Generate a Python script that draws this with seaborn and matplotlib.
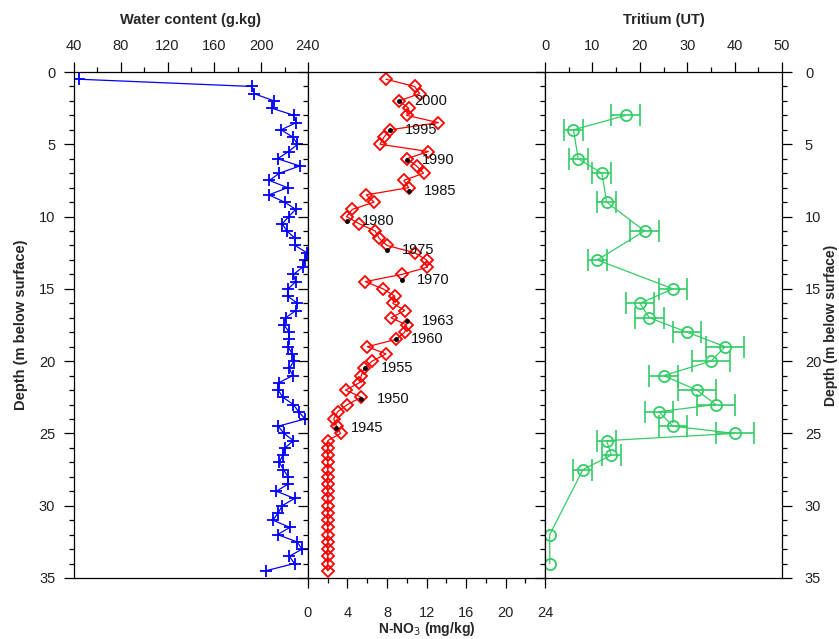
#depth profiles: water content, nitrate (with dated layers) and tritium
import numpy as np
import pandas as pd
import matplotlib
matplotlib.use('Agg')
import matplotlib.pyplot as plt
from matplotlib.ticker import MultipleLocator
import seaborn as sns

sns.set_theme(style='ticks')
plt.rcParams['font.family'] = ['Liberation Sans', 'DejaVu Sans']

#sampling depths (m), every half metre
depth = [0.5, 1.0, 1.5, 2.0, 2.5, 3.0, 3.5, 4.0, 4.5, 5.0, 5.5, 6.0, 6.5, 7.0, 7.5, 8.0, 8.5, 9.0, 9.5, 10.0,
 10.5, 11.0, 11.5, 12.0, 12.5, 13.0, 13.5, 14.0, 14.5, 15.0, 15.5, 16.0, 16.5, 17.0, 17.5, 18.0, 18.5, 19.0, 19.5, 20.0,
 20.5, 21.0, 21.5, 22.0, 22.5, 23.0, 23.5, 24.0, 24.5, 25.0, 25.5, 26.0, 26.5, 27.0, 27.5, 28.0, 28.5, 29.0, 29.5, 30.0,
 30.5, 31.0, 31.5, 32.0, 32.5, 33.0, 33.5, 34.0, 34.5]

water = [44.5, 192, 194, 211, 209, 228, 230, 217, 227, 231, 223.5, 214, 233, 215.5, 207, 222.5, 206.5, 220, 229.5, 223.5,
 218, 222, 229, 229, 239, 237.5, 235.5, 227.5, 229.5, 223, 222.5, 231, 229.5, 221, 219.5, 224, 224, 223, 226.5, 228,
 224, 227, 215, 214.5, 218.5, 227.5, 232, 237.5, 214.5, 219.5, 227.5, 220.5, 218.5, 215.5, 219, 223, 223, 213, 228.5, 218,
 214.5, 210, 224.5, 214, 230.5, 235, 224, 228.5, 204]

nitrate = [7.9, 10.8, 11.3, 9.2, 10.2, 10.0, 13.2, 8.3, 7.7, 7.3, 12.2, 10.0, 11.0, 11.7, 9.7, 10.2, 5.9, 6.7, 4.5, 3.9,
 5.2, 6.8, 7.2, 8.0, 10.8, 12.0, 12.1, 9.5, 5.8, 7.6, 8.8, 8.6, 9.8, 8.4, 10.0, 9.8, 8.9, 6.0, 7.9, 6.5,
 5.7, 5.4, 5.2, 3.8, 5.4, 4.0, 3.0, 2.6, 2.9, 3.3, 2.0, 2.0, 2.0, 2.0, 2.0, 2.0, 2.0, 2.0, 2.0, 2.0,
 2.0, 2.0, 2.0, 2.0, 2.0, 2.0, 2.0, 2.0, 2.0]

#dated layers on the nitrate profile
years = ['2000', '1995', '1990', '1985', '1980', '1975', '1970', '1963', '1960', '1955', '1950', '1945']
year_depth = [2.0, 4.0, 6.1, 8.2, 10.3, 12.3, 14.4, 17.2, 18.5, 20.5, 22.6, 24.6]
year_no3 = [9.2, 8.3, 10.0, 10.2, 3.9, 8.0, 9.5, 10.0, 8.9, 5.8, 5.4, 2.8]

#tritium
tri_depth = [3, 4, 6, 7, 9, 11, 13, 15, 16, 17, 18, 19, 20, 21, 22, 23, 23.5, 24.5, 25, 25.5, 26.5, 27.5, 32, 34]
tritium = [17, 6, 7, 12, 13, 21, 11, 27, 20, 22, 30, 38, 35, 25, 32, 36, 24, 27, 40, 13, 14, 8, 1, 1]
tri_err = [3, 2, 2, 2, 2, 3, 2, 3, 3, 3, 3, 4, 4, 3, 4, 4, 3, 3, 4, 2, 2, 2, 0, 0]

df_w = pd.DataFrame({'depth': depth, 'water': water, 'no3': nitrate})
df_t = pd.DataFrame({'depth': tri_depth, 'tritium': tritium, 'err': tri_err})

green = '#33cc66'
fig = plt.figure(figsize=(8.39, 6.39), dpi=100)
ax1 = fig.add_axes([0.0882, 0.0955, 0.2789, 0.7918])
ax2 = fig.add_axes([0.3671, 0.0955, 0.2825, 0.7918])
ax3 = fig.add_axes([0.6496, 0.0955, 0.2825, 0.7918])

sns.lineplot(data=df_w, x='water', y='depth', orient='y', estimator=None, sort=False, ax=ax1,
 color='#0000ff', lw=0.9, marker='+', markersize=9, markeredgewidth=1.3, markeredgecolor='#0000ff')
sns.lineplot(data=df_w, x='no3', y='depth', orient='y', estimator=None, sort=False, ax=ax2,
 color='#ff0000', lw=0.9, marker='D', markersize=6, markerfacecolor='none', markeredgecolor='#ff0000', markeredgewidth=1.3)
ax2.plot(year_no3, year_depth, ls='none', marker='o', ms=2.5, color='black', zorder=5)
for yr, d, v in zip(years, year_depth, year_no3):
	ax2.annotate(yr, (v, d), xytext=(11, 0), textcoords='offset points', va='center', ha='left', fontsize=10.5, color='#111111')

err_ok = df_t[df_t.err > 0]
ax3.errorbar(err_ok.tritium, err_ok.depth, xerr=err_ok.err, fmt='none', ecolor=green, elinewidth=1.2, capsize=8, capthick=1.2)
sns.lineplot(data=df_t, x='tritium', y='depth', orient='y', estimator=None, sort=False, ax=ax3,
 color=green, lw=0.9, marker='o', markersize=8, markerfacecolor='none', markeredgecolor=green, markeredgewidth=1.3)

for ax in (ax1, ax2, ax3):
	ax.set_ylim(35, 0)
	ax.yaxis.set_major_locator(MultipleLocator(5))
	ax.yaxis.set_minor_locator(MultipleLocator(1))
	for s in ax.spines.values():
		s.set_visible(True)
		s.set_linewidth(0.9)
		s.set_color('black')
	ax.tick_params(which='major', length=7.5, width=0.9, color='black', labelsize=10.5, labelcolor='#222222')
	ax.tick_params(which='minor', length=3.8, width=0.9, color='black')
	ax.set_xlabel('')
	ax.set_ylabel('')
	ax.set_facecolor('white')

#water content
ax1.set_xlim(40, 240)
ax1.xaxis.set_major_locator(MultipleLocator(40))
ax1.xaxis.set_minor_locator(MultipleLocator(20))
ax1.xaxis.tick_top()
ax1.tick_params(axis='x', which='both', top=True, bottom=False, labeltop=True, labelbottom=False, pad=6)
ax1.tick_params(axis='y', which='both', left=True, right=False, labelleft=True, pad=6)
ax1.xaxis.set_label_position('top')
ax1.set_xlabel('Water content (g.kg)', fontweight='bold', fontsize=10.5, labelpad=11)
ax1.set_ylabel('Depth (m below surface)', fontweight='bold', fontsize=10.5, labelpad=8)

#nitrate
ax2.set_xlim(0, 24)
ax2.xaxis.set_major_locator(MultipleLocator(4))
ax2.xaxis.set_minor_locator(MultipleLocator(2))
ax2.tick_params(axis='x', which='both', top=False, bottom=True, labelbottom=True, pad=13)
ax2.tick_params(axis='y', which='both', left=True, right=False, labelleft=False)
ax2.set_xlabel('N-NO$_3$ (mg/kg)', fontweight='bold', fontsize=10, labelpad=0)

#tritium
ax3.set_xlim(0, 50)
ax3.xaxis.set_major_locator(MultipleLocator(10))
ax3.xaxis.set_minor_locator(MultipleLocator(5))
ax3.xaxis.tick_top()
ax3.tick_params(axis='x', which='both', top=True, bottom=False, labeltop=True, labelbottom=False, pad=6)
ax3.tick_params(axis='y', which='both', left=True, right=True, labelleft=False, labelright=True, pad=9)
ax3.xaxis.set_label_position('top')
ax3.set_xlabel('Tritium (UT)', fontweight='bold', fontsize=10.5, labelpad=11)
fig.text(0.9905, 0.4914, 'Depth (m below surface)', fontweight='bold', fontsize=10,
 rotation=90, ha='center', va='center')

fig.savefig('out.png', dpi=100)
